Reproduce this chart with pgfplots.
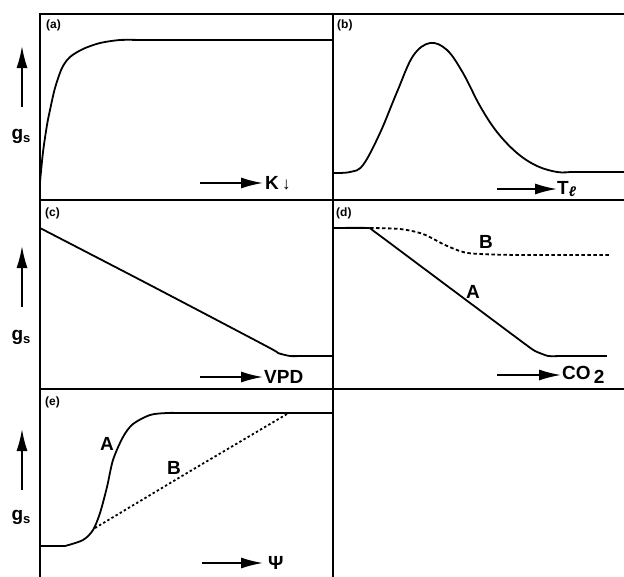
\documentclass[border=0pt]{standalone}
\usepackage{fontspec}
\setmainfont{Liberation Sans}
\usepackage{pgfplots}
\pgfplotsset{compat=1.18}
\usetikzlibrary{arrows.meta}
\pgfplotsset{panel/.style={scale only axis, anchor=north west, xtick=\empty, ytick=\empty,
  y dir=reverse, axis line style={line width=2pt}, clip=false}}
\tikzset{curve/.style={black, line width=1.8pt, line join=round},
  lab/.style={font=\bfseries\fontsize{19}{19}\selectfont, inner sep=0pt},
  plab/.style={font=\bfseries\fontsize{12}{12}\selectfont, inner sep=0pt, anchor=west},
  harr/.style={line width=1.8pt, -{Latex[length=22pt,width=11pt]}}}
\begin{document}
\begin{tikzpicture}[x=1pt,y=1pt]
\useasboundingbox (0,0) rectangle (624,-576);
% (a)
\begin{axis}[panel, at={(40pt,-14pt)}, width=293pt, height=186pt, xmin=40, xmax=333, ymin=14, ymax=200]
\addplot[curve, smooth, tension=0.5] coordinates {(40,182) (43,152) (47,125) (50,110) (55,88) (62,68) (70,57) (83,49) (100,43) (120,40) (140,40)};
\addplot[curve] coordinates {(140,40) (333,40)};
\end{axis}
% (b)
\begin{axis}[panel, at={(333pt,-14pt)}, width=300pt, height=186pt, xmin=333, xmax=633, ymin=14, ymax=200]
\addplot[curve, smooth, tension=0.6] coordinates {(333,173) (350,172) (363,165) (380,133) (397,92) (413,56) (430,43) (447,50) (463,73) (480,106) (497,132) (517,153) (537,166) (557,172) (570,172)};
\addplot[curve] coordinates {(570,172) (633,172)};
\end{axis}
% (c)
\begin{axis}[panel, at={(40pt,-200pt)}, width=293pt, height=189pt, xmin=40, xmax=333, ymin=200, ymax=389]
\addplot[curve, smooth, tension=0.4] coordinates {(40,228) (150,285) (268,347) (278,353) (290,356) (300,356)};
\addplot[curve] coordinates {(300,356) (333,356)};
\end{axis}
% (d)
\begin{axis}[panel, at={(333pt,-200pt)}, width=300pt, height=189pt, xmin=333, xmax=633, ymin=200, ymax=389]
\addplot[curve, dash pattern=on 3.5pt off 2.5pt, smooth, tension=0.5] coordinates {(370,228) (400,229) (423,234) (445,245) (463,252) (480,254) (520,255) (610,255)};
\addplot[curve, smooth, tension=0.3] coordinates {(333,228) (368,228) (375,232) (450,288) (525,344) (535,351) (548,356) (560,356)};
\addplot[curve] coordinates {(560,356) (607,356)};
\node[lab] at (axis cs:473,292) {A};
\node[lab] at (axis cs:486,242) {B};
\end{axis}
% (e)
\begin{axis}[panel, at={(40pt,-389pt)}, width=293pt, height=195pt, xmin=40, xmax=333, ymin=389, ymax=584]
\addplot[curve] coordinates {(40,546) (65,546)};
\addplot[curve, smooth, tension=0.5] coordinates {(65,546) (83,540) (93,530) (100,513) (107,487) (113,460) (123,437) (133,424) (150,415) (167,413) (180,413)};
\addplot[curve] coordinates {(180,413) (333,413)};
\addplot[curve, dash pattern=on 2.4pt off 2.4pt] coordinates {(95,528) (187,473) (287,414)};
\node[lab] at (axis cs:107,444) {A};
\node[lab] at (axis cs:174,468) {B};
\end{axis}
% panel letters
\node[plab] at (46,-25) {(a)};
\node[plab] at (337,-25) {(b)};
\node[plab] at (45,-213) {(c)};
\node[plab] at (336,-213) {(d)};
\node[plab] at (45,-402) {(e)};
% y labels
\foreach \yb/\yt/\yg in {107/46/136, 307/246/337, 490/429/517} {
  \draw[harr] (22,-\yb) -- (22,-\yt);
  \node[lab] at (21,-\yg) {g\raisebox{-3pt}{\fontsize{13}{13}\selectfont s}};
}
% x labels
\draw[harr] (200,-183) -- (263,-183);
\node[lab, anchor=west] at (265,-183) {K\,{\fontsize{17}{17}\selectfont ↓}};
\draw[harr] (497,-189) -- (557,-189);
\node[lab, anchor=west] at (557,-189) {T\raisebox{-2pt}{\fontsize{14}{14}\selectfont\itshape ℓ}};
\draw[harr] (200,-377) -- (263,-377);
\node[lab, anchor=west] at (264,-377) {VPD};
\draw[harr] (497,-375) -- (561,-375);
\node[lab, anchor=west] at (562,-375) {CO\,\raisebox{-4pt}{2}};
\draw[harr] (202,-563) -- (263,-563);
\node[lab, anchor=west] at (268,-563) {Ψ};
\end{tikzpicture}
\end{document}
